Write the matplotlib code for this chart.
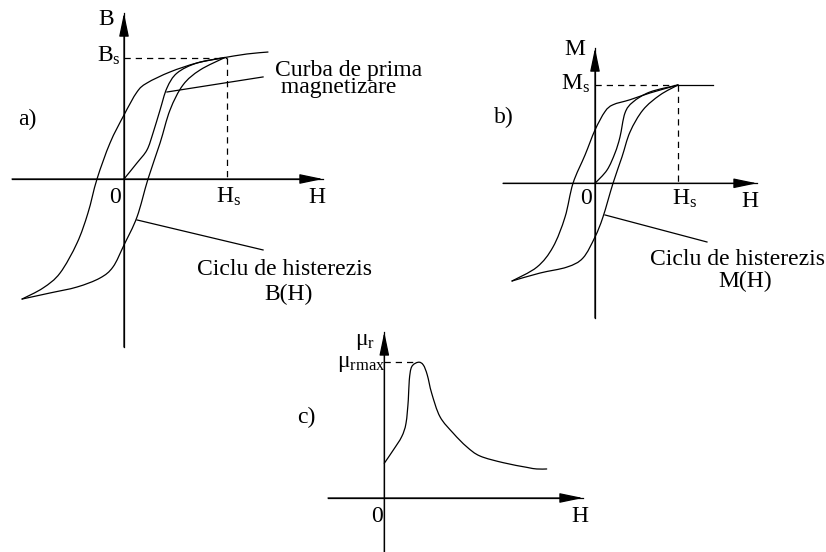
#
# Imports
#
import matplotlib
matplotlib.use("Agg")
import matplotlib.pyplot as plt
from matplotlib.path import Path
from matplotlib.patches import PathPatch

#
# Curve data (arbitrary units: saturation point = 1)
#

# a) B(H)
a_upper_h = [0.98, 0.709, 0.447, 0.223, 0.126, 0.0, -0.136, -0.262, -0.350, -0.456, -0.621, -0.786, -0.990]
a_upper_b = [1.0, 0.955, 0.881, 0.790, 0.716, 0.527, 0.296, 0.0, -0.280, -0.527, -0.774, -0.897, -0.988]
a_lower_h = [-0.990, -0.718, -0.456, -0.233, -0.107, 0.0, 0.126, 0.233, 0.350, 0.447, 0.573, 0.738, 0.98]
a_lower_b = [-0.988, -0.938, -0.889, -0.815, -0.724, -0.543, -0.313, 0.0, 0.296, 0.568, 0.774, 0.897, 1.0]
a_first_h = [0.0, 0.126, 0.223, 0.282, 0.350, 0.417, 0.515, 0.709, 0.98]
a_first_b = [0.0, 0.132, 0.239, 0.379, 0.568, 0.749, 0.872, 0.955, 1.0]
a_sat_h = [0.98, 1.194, 1.398]
a_sat_b = [1.0, 1.029, 1.045]

# b) M(H)
b_upper_h = [1.0, 0.663, 0.422, 0.217, 0.120, 0.0, -0.120, -0.265, -0.361, -0.506, -0.699, -1.0]
b_upper_m = [1.0, 0.919, 0.850, 0.799, 0.729, 0.542, 0.288, 0.0, -0.343, -0.648, -0.852, -0.994]
b_lower_h = [-1.0, -0.663, -0.337, -0.145, 0.0, 0.096, 0.217, 0.325, 0.422, 0.578, 0.783, 1.0]
b_lower_m = [-0.994, -0.913, -0.852, -0.760, -0.546, -0.343, 0.0, 0.268, 0.522, 0.746, 0.898, 1.0]
b_first_h = [0.0, 0.145, 0.241, 0.301, 0.361, 0.458, 0.663, 1.0]
b_first_m = [0.0, 0.135, 0.308, 0.471, 0.715, 0.827, 0.929, 1.0]
b_sat_h = [1.0, 1.422]
b_sat_m = [1.0, 1.0]

# c) mu_r(H)
c_h = [0.0, 0.09, 0.174, 0.217, 0.24, 0.25, 0.274, 0.34, 0.39, 0.43, 0.474,
       0.557, 0.69, 0.824, 0.957, 1.19, 1.424, 1.524, 1.624]
c_mu = [0.255, 0.352, 0.450, 0.548, 0.719, 0.866, 0.963, 0.996, 0.976, 0.902, 0.768,
        0.596, 0.475, 0.376, 0.308, 0.259, 0.225, 0.213, 0.213]
c_peak_h = 0.29

FS = 17
LW = 0.9

plt.rcParams['font.family'] = ['Liberation Serif', 'DejaVu Serif']
plt.rcParams['mathtext.fontset'] = 'custom'
plt.rcParams['mathtext.rm'] = 'Liberation Serif'
plt.rcParams['mathtext.it'] = 'Liberation Serif:italic'


#
# Panel helper: axes over the whole figure, origin/scale given in pixels
#
def panel(fig, origin, scale, size=(826, 552)):
    ax = fig.add_axes([0, 0, 1, 1])
    ax.set_xlim((0 - origin[0]) / scale[0], (size[0] - origin[0]) / scale[0])
    ax.set_ylim((origin[1] - size[1]) / scale[1], origin[1] / scale[1])
    ax.axis('off')
    ax.patch.set_alpha(0)
    return ax


def axes_arrows(ax, xr, yr, ybottom):
    ax.plot([xr[0], xr[1]], [0, 0], color='black', lw=LW)
    ax.plot([0, 0], [ybottom, yr], color='black', lw=LW)
    style = '-|>,head_length=0.72,head_width=0.15'
    ax.annotate('', xy=(xr[1], 0), xytext=(xr[0], 0),
                arrowprops=dict(arrowstyle=style, color='black', lw=LW,
                                mutation_scale=20, shrinkA=0, shrinkB=0))
    ax.annotate('', xy=(0, yr), xytext=(0, ybottom),
                arrowprops=dict(arrowstyle=style, color='black', lw=LW,
                                mutation_scale=20, shrinkA=0, shrinkB=0))


# smooth curve through the read points (bezier segments drawn by matplotlib)
def curve(ax, x, y):
    pts = list(zip(x, y))
    n = len(pts)
    if n < 3:
        ax.plot(x, y, color='black', lw=LW)
        return
    verts = [pts[0]]
    codes = [Path.MOVETO]
    for i in range(n - 1):
        p0 = pts[max(i - 1, 0)]
        p1 = pts[i]
        p2 = pts[i + 1]
        p3 = pts[min(i + 2, n - 1)]
        c1 = (p1[0] + (p2[0] - p0[0]) / 6, p1[1] + (p2[1] - p0[1]) / 6)
        c2 = (p2[0] - (p3[0] - p1[0]) / 6, p2[1] - (p3[1] - p1[1]) / 6)
        verts += [c1, c2, p2]
        codes += [Path.CURVE4] * 3
    ax.add_patch(PathPatch(Path(verts, codes), facecolor='none',
                           edgecolor='black', lw=LW, capstyle='round'))


def line(ax, x, y):
    ax.plot(x, y, color='black', lw=LW)


def dashed(ax, x, y):
    ax.plot(x, y, color='black', lw=0.9, linestyle=(0, (5, 4)))


fig = plt.figure(figsize=(8.26, 5.52), dpi=100)

#
# a) B(H)
#
ax1 = panel(fig, (124, 179), (103, 121.5))
axes_arrows(ax1, (-1.087, 1.932), 1.366, -1.383)
curve(ax1, a_upper_h, a_upper_b)
curve(ax1, a_lower_h, a_lower_b)
curve(ax1, a_first_h, a_first_b)
curve(ax1, a_sat_h, a_sat_b)
dashed(ax1, [0, 1.0], [1.0, 1.0])
dashed(ax1, [1.0, 1.0], [1.0, 0])
line(ax1, [0.417, 1.350], [0.716, 0.840])
line(ax1, [0.126, 1.350], [-0.337, -0.584])
ax1.text(-0.175, 1.267, 'B', fontsize=FS, ha='center', va='baseline')
ax1.text(-0.029, 0.963, r'$\mathrm{B_s}$', fontsize=FS, ha='right', va='baseline')
ax1.text(-0.087, -0.198, '0', fontsize=FS, ha='center', va='baseline')
ax1.text(0.893, -0.198, r'$\mathrm{H_s}$', fontsize=FS, ha='left', va='baseline')
ax1.text(1.874, -0.198, 'H', fontsize=FS, ha='center', va='baseline')
ax1.text(-1.029, 0.444, 'a)', fontsize=FS, ha='left', va='baseline')
ax1.text(1.466, 0.708, 'Curba de prima\n magnetizare', fontsize=FS, ha='left',
         va='baseline', linespacing=0.72)
ax1.text(0.709, -0.790, 'Ciclu de histerezis', fontsize=FS, ha='left', va='baseline')
ax1.text(1.602, -0.996, 'B(H)', fontsize=FS, ha='center', va='baseline')

#
# b) M(H)
#
ax2 = panel(fig, (595, 183.3), (83, 98.3))
axes_arrows(ax2, (-1.108, 1.952), 1.376, -1.370)
curve(ax2, b_upper_h, b_upper_m)
curve(ax2, b_lower_h, b_lower_m)
curve(ax2, b_first_h, b_first_m)
line(ax2, b_sat_h, b_sat_m)
dashed(ax2, [0, 1.0], [1.0, 1.0])
dashed(ax2, [1.0, 1.0], [1.0, 0])
line(ax2, [0.12, 1.349], [-0.322, -0.597])
ax2.text(-0.241, 1.305, 'M', fontsize=FS, ha='center', va='baseline')
ax2.text(-0.060, 0.949, r'$\mathrm{M_s}$', fontsize=FS, ha='right', va='baseline')
ax2.text(-1.217, 0.613, 'b)', fontsize=FS, ha='left', va='baseline')
ax2.text(-0.108, -0.211, '0', fontsize=FS, ha='center', va='baseline')
ax2.text(0.928, -0.221, r'$\mathrm{H_s}$', fontsize=FS, ha='left', va='baseline')
ax2.text(1.867, -0.241, 'H', fontsize=FS, ha='center', va='baseline')
ax2.text(0.663, -0.831, 'Ciclu de histerezis', fontsize=FS, ha='left', va='baseline')
ax2.text(1.807, -1.055, 'M(H)', fontsize=FS, ha='center', va='baseline')

#
# c) mu_r(H)
#
ax3 = panel(fig, (384.3, 498), (100, 136.3))
axes_arrows(ax3, (-0.563, 1.987), 1.218, -0.396)
curve(ax3, c_h, c_mu)
dashed(ax3, [0, c_peak_h], [1.0, 1.0])
ax3.text(-0.09, 1.123, r'$\mathrm{μ_r}$', fontsize=FS, ha='right', va='baseline')
ax3.text(0.01, 0.961, r'$\mathrm{μ_{rmax}}$', fontsize=FS, ha='right', va='baseline')
ax3.text(-0.873, 0.550, 'c)', fontsize=FS, ha='left', va='baseline')
ax3.text(-0.073, -0.176, '0', fontsize=FS, ha='center', va='baseline')
ax3.text(1.957, -0.176, 'H', fontsize=FS, ha='center', va='baseline')

fig.savefig('out.png', dpi=100)
